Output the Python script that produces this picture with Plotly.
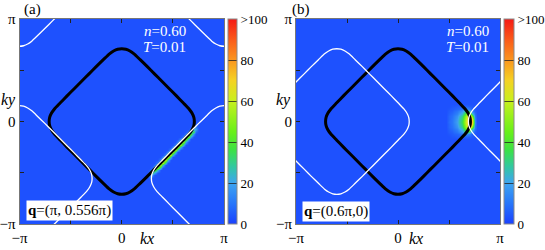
import numpy as np
import plotly.graph_objects as go

SERIF = "Times New Roman, Liberation Serif, DejaVu Serif, serif"

# ---- data (momenta in units of pi) ----
# Fermi surface, first quadrant (top vertex -> right vertex)
FS_Q1_KX = [0.00, 0.04, 0.08, 0.12, 0.18, 0.25, 0.32, 0.3925, 0.465, 0.535, 0.603, 0.66, 0.688, 0.705, 0.71]
FS_Q1_KY = [0.71, 0.705, 0.688, 0.66, 0.603, 0.535, 0.465, 0.3925, 0.32, 0.25, 0.18, 0.12, 0.08, 0.04, 0.00]

Q_A = (1.0, 0.556)
Q_B = (0.6, 0.0)
Q_A_TEXT = "<b>q</b>=(π, 0.556π)"
Q_B_TEXT = "<b>q</b>=(0.6π,0)"

BACKGROUND_VALUE = 3

# panel (a): hot strip along the lower-right Fermi-surface edge
STRIP_A_KX = [0.275, 0.30, 0.325, 0.35, 0.375, 0.40, 0.425, 0.45, 0.475, 0.50,
              0.525, 0.55, 0.575, 0.60, 0.625, 0.65, 0.675, 0.70, 0.725]
STRIP_A_DIAG = [0.75, 0.775, 0.80, 0.825]   # kx - ky of each diagonal row of cells
STRIP_A_VALUES = [
    [5, 8, 10, 12, 13, 14, 14, 14, 14, 13, 13, 13, 12, 12, 11, 11, 10, 9, 6],
    [10, 20, 28, 33, 36, 38, 39, 39, 38, 36, 36, 35, 34, 33, 31, 30, 27, 23, 13],
    [15, 30, 44, 52, 57, 60, 62, 62, 60, 58, 56, 55, 53, 51, 49, 47, 43, 36, 20],
    [6, 12, 18, 22, 24, 25, 26, 26, 25, 24, 24, 23, 22, 21, 20, 19, 18, 15, 8],
]

# panel (b): hot spot near the right vertex
SPOT_B_KX = [0.50, 0.525, 0.55, 0.575, 0.60, 0.625, 0.65, 0.675, 0.70, 0.725, 0.75]
SPOT_B_KY = [-0.15, -0.125, -0.10, -0.075, -0.05, -0.025, 0.0, 0.025, 0.05, 0.075, 0.10, 0.125, 0.15]
SPOT_B_Z = [
    # kx: .50 .525 .55 .575 .60 .625 .65 .675 .70 .725 .75
    [3, 4, 4, 5, 5, 6, 6, 6, 5, 4, 3],
    [4, 5, 6, 7, 8, 10, 12, 14, 12, 6, 4],
    [5, 6, 8, 10, 13, 17, 24, 34, 30, 12, 5],
    [6, 8, 10, 13, 18, 24, 34, 52, 60, 28, 8],
    [7, 9, 12, 16, 22, 30, 42, 62, 90, 48, 10],
    [7, 10, 13, 18, 25, 33, 47, 66, 100, 68, 12],
    [8, 10, 14, 19, 26, 35, 49, 68, 100, 72, 13],
    [7, 10, 13, 18, 25, 33, 47, 66, 100, 68, 12],
    [7, 9, 12, 16, 22, 30, 42, 62, 90, 48, 10],
    [6, 8, 10, 13, 18, 24, 34, 52, 60, 28, 8],
    [5, 6, 8, 10, 13, 17, 24, 34, 30, 12, 5],
    [4, 5, 6, 7, 8, 10, 12, 14, 12, 6, 4],
    [3, 4, 4, 5, 5, 6, 6, 6, 5, 4, 3],
]

CB_TICKS = [0, 20, 40, 60, 80, 100]
CB_TEXT = ["0", "20", "40", "60", "80", ">100"]

# ---- build helpers ----
GRID = np.round(np.arange(-1.0, 1.0001, 0.025), 4)
N = len(GRID)


def idx(v):
    return int(round((v + 1.0) / 0.025))


def put(z, kx, ky, val):
    i, j = idx(kx), idx(ky)
    if 0 <= i < N and 0 <= j < N:
        z[j, i] = max(z[j, i], val)


def fs_loop():
    q1 = list(zip(FS_Q1_KX, FS_Q1_KY))
    q4 = [(x, -y) for (x, y) in reversed(q1)][1:]
    q3 = [(-x, -y) for (x, y) in q1][1:]
    q2 = [(-x, y) for (x, y) in reversed(q1)][1:]
    pts = (q1 + q4 + q3 + q2)[:-1]
    s = 7
    pts = pts[s:] + pts[:s] + [pts[s]]
    return pts


LOOP = fs_loop()


def curve(cx_list, cy_list):
    xs, ys = [], []
    for cx in cx_list:
        for cy in cy_list:
            for (x, y) in LOOP:
                xs.append(x + cx)
                ys.append(y + cy)
            xs.append(None)
            ys.append(None)
    return xs, ys


z_a = np.full((N, N), float(BACKGROUND_VALUE))
for d, row in zip(STRIP_A_DIAG, STRIP_A_VALUES):
    for kx, v in zip(STRIP_A_KX, row):
        put(z_a, kx, round(kx - d, 4), v)

z_b = np.full((N, N), float(BACKGROUND_VALUE))
for ky, row in zip(SPOT_B_KY, SPOT_B_Z):
    for kx, v in zip(SPOT_B_KX, row):
        put(z_b, kx, ky, v)

COLORSCALE = [
    [0.00, "rgb(25,65,255)"],
    [0.10, "rgb(40,118,250)"],
    [0.20, "rgb(62,165,240)"],
    [0.28, "rgb(50,200,160)"],
    [0.36, "rgb(60,225,70)"],
    [0.45, "rgb(105,240,25)"],
    [0.60, "rgb(200,240,30)"],
    [0.70, "rgb(245,210,35)"],
    [0.80, "rgb(250,150,30)"],
    [0.90, "rgb(250,90,25)"],
    [1.00, "rgb(245,25,20)"],
]

W, H = 545, 250
PLOT_TOP, PLOT_BOT = 19, 224
PA = (19.5, 224.0)
PB = (296.0, 500.0)
CBA = 228
CBB = 504


def cbar(xpix, thick):
    return dict(
        x=xpix / W, xanchor="left", xpad=0, ypad=0,
        y=1 - (PLOT_TOP + PLOT_BOT) / 2 / H, yanchor="middle",
        len=(PLOT_BOT - PLOT_TOP) / H, lenmode="fraction",
        thickness=thick, outlinewidth=1, outlinecolor="#8a8a8a",
        tickvals=CB_TICKS, ticktext=CB_TEXT, ticks="inside", ticklen=thick,
        tickcolor="rgba(30,30,30,0.75)", tickwidth=1,
        tickfont=dict(family=SERIF, size=13, color="black"),
    )


fig = go.Figure()

panels = [
    ("x", "y", z_a, Q_A, CBA, 9),
    ("x2", "y2", z_b, Q_B, CBB, 10),
]
for xa, ya, z, q, cbx, th in panels:
    fig.add_trace(go.Heatmap(
        x=GRID, y=GRID, z=z, zmin=0, zmax=100, zsmooth="best",
        colorscale=COLORSCALE, colorbar=cbar(cbx, th), xaxis=xa, yaxis=ya,
        hoverinfo="skip",
    ))
    cxs = [-q[0] - 2, -q[0], -q[0] + 2]
    cys = [-q[1] - 2, -q[1], -q[1] + 2]
    bx, by = curve([0.0], [0.0])
    fig.add_trace(go.Scatter(x=bx, y=by, mode="lines", line=dict(color="black", width=3, shape="spline", smoothing=0.6),
                             xaxis=xa, yaxis=ya, showlegend=False, hoverinfo="skip"))
    wx, wy = curve(cxs, cys)
    fig.add_trace(go.Scatter(x=wx, y=wy, mode="lines", line=dict(color="white", width=1.3, shape="spline", smoothing=0.6),
                             xaxis=xa, yaxis=ya, showlegend=False, hoverinfo="skip"))

TICKV = [-1, -0.5, 0, 0.5, 1]
TICKT = ["−π", "", "0", "", "π"]


def axis(dom, anchor):
    return dict(domain=dom, anchor=anchor, range=[-1, 1], tickvals=TICKV, ticktext=TICKT, ticks="inside",
                ticklen=4, tickcolor="#222", tickwidth=1, showline=True, mirror="ticks",
                linecolor="#777", linewidth=1, showgrid=False, zeroline=False, automargin=False,
                tickfont=dict(family=SERIF, size=15, color="black"), fixedrange=True)


ydom = [1 - PLOT_BOT / H, 1 - PLOT_TOP / H]
fig.update_layout(
    width=W, height=H, margin=dict(l=0, r=0, t=0, b=0, autoexpand=False),
    paper_bgcolor="white", plot_bgcolor="white", showlegend=False,
    font=dict(family=SERIF),
    xaxis=axis([PA[0] / W, PA[1] / W], "y"),
    yaxis=axis(ydom, "x"),
    xaxis2=axis([PB[0] / W, PB[1] / W], "y2"),
    yaxis2=axis(ydom, "x2"),
)

ann = []


def txt(xp, yp, text, size=14, color="black", xanchor="center", **kw):
    ann.append(dict(x=xp / W, y=1 - yp / H, xref="paper", yref="paper", text=text, showarrow=False,
                    xanchor=xanchor, yanchor="middle", font=dict(family=SERIF, size=size, color=color), **kw))


txt(22, 9, "(a)", size=15, xanchor="left")
txt(290, 9, "(b)", size=15, xanchor="left")
txt(147, 238, "<i>kx</i>", size=16)
txt(416, 238, "<i>kx</i>", size=16)
txt(8, 100, "<i>ky</i>", size=16)
txt(283, 100, "<i>ky</i>", size=16)
txt(188, 31, "<i>n</i>=0.60", size=15, color="white", xanchor="right")
txt(188, 47, "<i>T</i>=0.01", size=15, color="white", xanchor="right")
txt(491, 31, "<i>n</i>=0.60", size=15, color="white", xanchor="right")
txt(491, 47, "<i>T</i>=0.01", size=15, color="white", xanchor="right")
txt(26, 210, Q_A_TEXT, size=15, xanchor="left", bgcolor="white", borderpad=1)
txt(302, 211, Q_B_TEXT, size=15, xanchor="left", bgcolor="white", borderpad=1)
fig.update_layout(annotations=ann)

fig.write_html(
    "out.html",
    config={"displayModeBar": False},
    post_script="document.body.style.margin='0';document.body.style.overflow='hidden';",
)
